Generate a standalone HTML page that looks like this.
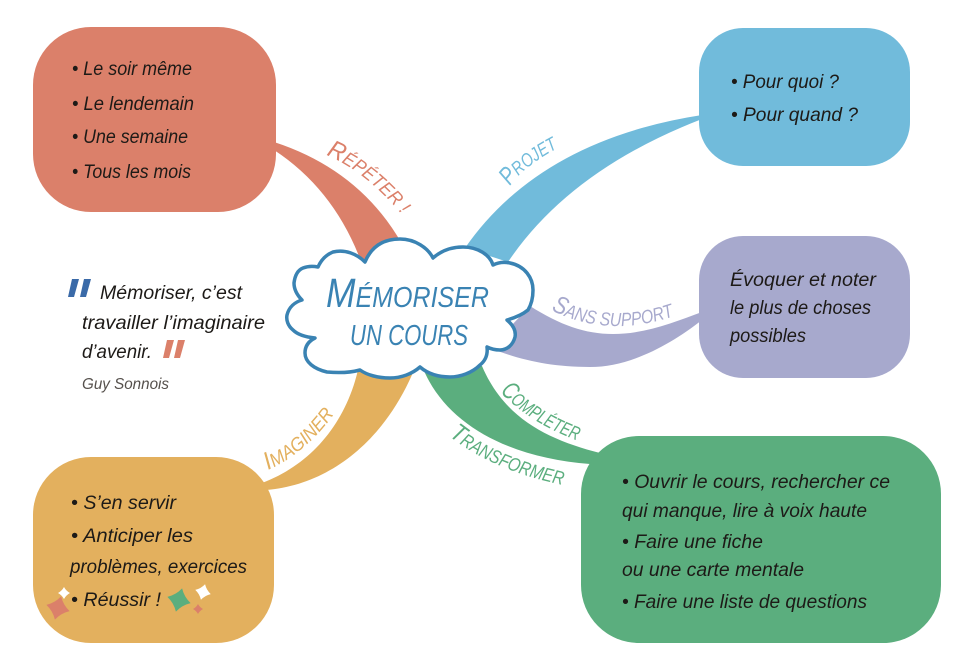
<!DOCTYPE html>
<html lang="fr"><head><meta charset="utf-8"><title>Mémoriser un cours</title>
<style>
html,body{margin:0;padding:0;background:#fff;width:960px;height:664px;overflow:hidden}
svg{display:block}
text{font-family:"Liberation Sans",sans-serif;font-style:italic}
.t{font-size:19px;fill:#1d1a17}
.l{font-size:19px}
.b{font-size:25px}
</style></head><body>
<svg width="960" height="664" viewBox="0 0 960 664" xmlns="http://www.w3.org/2000/svg">
<defs>
<path id="pR" d="M326,155 Q368,172 408,222"/>
<path id="pP" d="M510,186 Q526,164 562,146"/>
<path id="pS" d="M551,310 Q610,340 680,314"/>
<path id="pC" d="M500,392 Q532,425 584,443"/>
<path id="pT" d="M449,436 Q495,472 568,486"/>
<path id="pI" d="M268,470 Q312,450 342,402"/>
<path id="st" d="M0,-10 Q3.5,-3.5 10,0 Q3.5,3.5 0,10 Q-3.5,3.5 -10,0 Q-3.5,-3.5 0,-10Z"/>
</defs>
<!-- connectors -->
<path fill="#DB806A" d="M274,142 Q360,170 402,244 L362,264 Q335,190 274,150Z"/>
<path fill="#71BBDB" d="M702,115 Q540,140 465,248 L508,262 Q570,170 702,119Z"/>
<path fill="#A7A9CD" d="M530,306 C560,325 585,334 613,334 C645,334 675,322 702,312 L702,320 C670,345 630,367 590,367 C550,367 520,360 490,348Z"/>
<path fill="#5BAE7E" d="M422,366 C445,425 510,458 590,464 L600,453 C550,440 505,420 482,366Z"/>
<path fill="#E3B05E" d="M358,370 C345,425 310,465 262,483 L266,490 C330,485 385,440 414,370Z"/>
<!-- boxes -->
<rect x="33" y="27" width="243" height="185" rx="58" fill="#DB806A"/>
<rect x="699" y="28" width="211" height="138" rx="44" fill="#71BBDB"/>
<rect x="699" y="236" width="211" height="142" rx="44" fill="#A7A9CD"/>
<rect x="581" y="436" width="360" height="207" rx="58" fill="#5BAE7E"/>
<rect x="33" y="457" width="241" height="186" rx="58" fill="#E3B05E"/>
<!-- cloud -->
<path fill="#fff" stroke="#3A83B3" stroke-width="3.5" stroke-linejoin="round" d="M365,262 C372,245 385,239 400,239 C415,239 428,248 433,258 C442,250 452,247 463,247 C478,247 490,255 493,265 C499,262 505,262 510,263 C525,266 533,278 533,290 C533,298 531,305 528,310 C522,315 514,318 507,320 C514,326 516,332 515,337 C513,345 507,350 500,350 C495,350 491,349 487,347 C488,355 485,361 480,365 C472,373 460,377 450,377 C437,377 427,373 420,367 C412,374 401,378 390,378 C378,378 367,375 360,370 C349,373 338,373 327,372 C314,369 305,362 305,353 C305,346 309,341 315,338 C305,337 297,334 293,330 C288,326 286,320 287,315 C289,307 295,302 302,300 C297,295 294,289 294,283 C295,275 298,270 303,268 C308,266 313,266 318,267 C322,258 328,254 333,252 C345,249 357,254 365,262Z"/>
<text x="326" y="307" fill="#3A83B3" textLength="163" lengthAdjust="spacingAndGlyphs"><tspan font-size="41">M</tspan><tspan font-size="29">ÉMORISER</tspan></text>
<text x="350" y="345" font-size="29" fill="#3A83B3" textLength="118" lengthAdjust="spacingAndGlyphs">UN COURS</text>
<!-- curved labels -->
<text class="l" fill="#DB806A"><textPath href="#pR" textLength="97" lengthAdjust="spacingAndGlyphs"><tspan class="b">R</tspan>ÉPÉTER !</textPath></text>
<text class="l" fill="#71BBDB"><textPath href="#pP" textLength="62" lengthAdjust="spacingAndGlyphs"><tspan class="b">P</tspan>ROJET</textPath></text>
<text class="l" fill="#A7A9CD"><textPath href="#pS" textLength="127" lengthAdjust="spacingAndGlyphs"><tspan class="b">S</tspan>ANS SUPPORT</textPath></text>
<text class="l" fill="#5BAE7E"><textPath href="#pC" textLength="92" lengthAdjust="spacingAndGlyphs"><tspan class="b">C</tspan>OMPLÉTER</textPath></text>
<text class="l" fill="#5BAE7E"><textPath href="#pT" textLength="125" lengthAdjust="spacingAndGlyphs"><tspan class="b">T</tspan>RANSFORMER</textPath></text>
<text class="l" fill="#E3B05E"><textPath href="#pI" textLength="88" lengthAdjust="spacingAndGlyphs"><tspan class="b">I</tspan>MAGINER</textPath></text>
<!-- red -->
<text class="t" x="72" y="75" textLength="120" lengthAdjust="spacingAndGlyphs">• Le soir même</text>
<text class="t" x="72" y="110" textLength="122" lengthAdjust="spacingAndGlyphs">• Le lendemain</text>
<text class="t" x="72" y="143" textLength="116" lengthAdjust="spacingAndGlyphs">• Une semaine</text>
<text class="t" x="72" y="178" textLength="119" lengthAdjust="spacingAndGlyphs">• Tous les mois</text>
<!-- blue -->
<text class="t" x="731" y="88" textLength="108" lengthAdjust="spacingAndGlyphs">• Pour quoi ?</text>
<text class="t" x="731" y="121" textLength="127" lengthAdjust="spacingAndGlyphs">• Pour quand ?</text>
<!-- lavender -->
<text class="t" x="730" y="286" textLength="146" lengthAdjust="spacingAndGlyphs">Évoquer et noter</text>
<text class="t" x="730" y="314" textLength="141" lengthAdjust="spacingAndGlyphs">le plus de choses</text>
<text class="t" x="730" y="342" textLength="76" lengthAdjust="spacingAndGlyphs">possibles</text>
<!-- green -->
<text class="t" x="622" y="488" textLength="268" lengthAdjust="spacingAndGlyphs">• Ouvrir le cours, rechercher ce</text>
<text class="t" x="622" y="517" textLength="245" lengthAdjust="spacingAndGlyphs">qui manque, lire à voix haute</text>
<text class="t" x="622" y="548" textLength="141" lengthAdjust="spacingAndGlyphs">• Faire une fiche</text>
<text class="t" x="622" y="576" textLength="182" lengthAdjust="spacingAndGlyphs">ou une carte mentale</text>
<text class="t" x="622" y="608" textLength="245" lengthAdjust="spacingAndGlyphs">• Faire une liste de questions</text>
<!-- yellow -->
<text class="t" x="71" y="509" textLength="105" lengthAdjust="spacingAndGlyphs">• S’en servir</text>
<text class="t" x="71" y="542" textLength="122" lengthAdjust="spacingAndGlyphs">• Anticiper les</text>
<text class="t" x="70" y="573" textLength="177" lengthAdjust="spacingAndGlyphs">problèmes, exercices</text>
<text class="t" x="71" y="606" textLength="90" lengthAdjust="spacingAndGlyphs">• Réussir !</text>
<!-- stars -->
<use href="#st" fill="#DB806A" transform="translate(58,608) rotate(15) scale(1.2)"/>
<use href="#st" fill="#fff" transform="translate(64,593) scale(.6)"/>
<use href="#st" fill="#5BAE7E" transform="translate(179,600) rotate(15) scale(1.2)"/>
<use href="#st" fill="#fff" transform="translate(203,592) rotate(15) scale(.8)"/>
<use href="#st" fill="#DB806A" transform="translate(198,609) scale(.5)"/>
<!-- quote -->
<path fill="#3A6AA8" d="M72,279 H79 L74,297 H68Z M84,279 H91 L86,297 H80Z"/>
<text class="t" x="100" y="299" textLength="142" lengthAdjust="spacingAndGlyphs">Mémoriser, c’est</text>
<text class="t" x="82" y="329" textLength="183" lengthAdjust="spacingAndGlyphs">travailler l’imaginaire</text>
<text class="t" x="82" y="358" textLength="70" lengthAdjust="spacingAndGlyphs">d’avenir.</text>
<path fill="#DB806A" d="M167,340 H174 L169,358 H163Z M178,340 H185 L180,358 H174Z"/>
<text x="82" y="389" font-size="15.5" fill="#55504c" textLength="87" lengthAdjust="spacingAndGlyphs">Guy Sonnois</text>
</svg>
</body></html>
